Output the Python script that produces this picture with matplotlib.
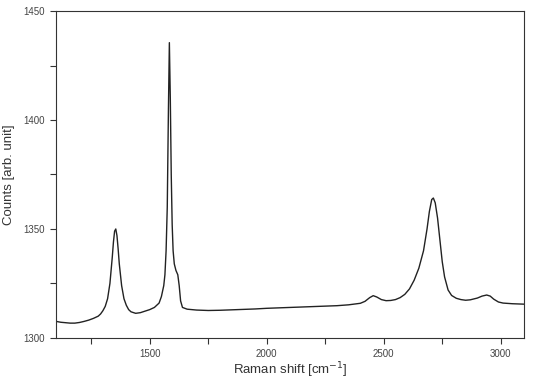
import numpy as np
import matplotlib
matplotlib.use('Agg')
import matplotlib.pyplot as plt
from matplotlib.ticker import MultipleLocator

# Raman spectrum
shift = [1100, 1120, 1140, 1160, 1180, 1200, 1220, 1240, 1260, 1280,
         1290, 1300, 1310, 1320, 1330, 1340, 1345, 1350, 1355, 1360,
         1365, 1370, 1380, 1390, 1400, 1410, 1420, 1440, 1460, 1480,
         1500, 1520, 1540, 1550, 1560, 1565, 1570, 1575, 1580, 1584,
         1588, 1592, 1596, 1600, 1605, 1612, 1620, 1626, 1632, 1640,
         1660, 1700, 1750, 1800, 1850, 1900, 1950, 2000, 2050, 2100,
         2150, 2200, 2250, 2300, 2350, 2400, 2420, 2440, 2455, 2470,
         2490, 2510, 2530, 2550, 2570, 2590, 2610, 2630, 2650, 2670,
         2685, 2695, 2705, 2712, 2720, 2730, 2740, 2750, 2760, 2775,
         2790, 2810, 2830, 2850, 2870, 2900, 2920, 2940, 2955, 2970,
         2990, 3010, 3050, 3100]
counts = [1307.6, 1307.2, 1307.0, 1306.8, 1306.8, 1307.1, 1307.6, 1308.2, 1309.0, 1310.0,
          1311.0, 1312.5, 1314.5, 1318.0, 1325.0, 1337.0, 1344.0, 1349.0, 1350.0, 1347.0,
          1341.0, 1334.0, 1324.0, 1318.0, 1315.0, 1313.0, 1312.0, 1311.3, 1311.6, 1312.3,
          1313.0, 1314.0, 1316.0, 1319.0, 1324.0, 1329.0, 1340.0, 1360.0, 1405.0, 1435.5,
          1410.0, 1375.0, 1352.0, 1340.0, 1334.0, 1331.0, 1329.0, 1324.0, 1317.0, 1314.0,
          1313.2, 1312.8, 1312.6, 1312.7, 1312.9, 1313.1, 1313.3, 1313.6, 1313.8, 1314.0,
          1314.2, 1314.4, 1314.6, 1314.8, 1315.2, 1315.9, 1316.8, 1318.5, 1319.4, 1318.8,
          1317.6, 1317.1, 1317.2, 1317.6, 1318.5, 1320.0, 1322.5, 1326.5, 1332.0, 1340.0,
          1350.0, 1358.0, 1363.5, 1364.2, 1362.0, 1355.0, 1345.0, 1335.0, 1328.0, 1322.0,
          1319.5, 1318.2, 1317.6, 1317.3, 1317.5, 1318.3, 1319.2, 1319.7, 1319.2, 1317.8,
          1316.5, 1316.0, 1315.7, 1315.5]

x_ticks = [1500, 2000, 2500, 3000]
y_ticks = [1300, 1350, 1400, 1450]

plt.rcParams['font.family'] = ['Liberation Sans', 'DejaVu Sans']

fig = plt.figure(figsize=(5.5, 3.81), dpi=100)
ax = fig.add_axes([0.102, 0.113, 0.851, 0.858])

ax.plot(shift, counts, color='#222222', linewidth=1.0)

ax.set_xlim(1100, 3100)
ax.set_ylim(1300, 1450)
ax.set_xticks(x_ticks)
ax.set_yticks(y_ticks)
ax.xaxis.set_minor_locator(MultipleLocator(250))
ax.yaxis.set_minor_locator(MultipleLocator(25))

ax.tick_params(which='both', direction='out', length=4, width=0.8,
               color='#333333', top=False, right=False)
ax.tick_params(axis='both', labelsize=7, labelcolor='#444444', pad=4)

for s in ax.spines.values():
    s.set_color('#333333')
    s.set_linewidth(0.8)

ax.set_xlabel('Raman shift [cm$^{-1}$]', fontsize=9.5, color='#333333')
ax.set_ylabel('Counts [arb. unit]', fontsize=9.5, color='#333333')
ax.xaxis.set_label_coords(0.5, -0.098)
ax.yaxis.set_label_coords(-0.101, 0.5)
ax.xaxis.label.set_va('center')
ax.yaxis.label.set_va('center')

fig.savefig('out.png', dpi=100)
